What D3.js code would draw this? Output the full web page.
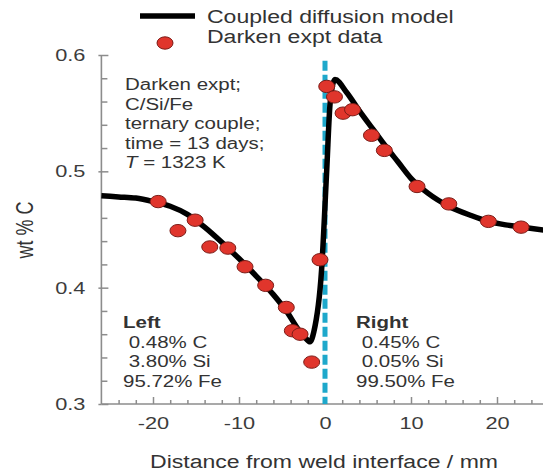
<!DOCTYPE html>
<html>
<head>
<meta charset="utf-8">
<script src="https://cdn.jsdelivr.net/npm/d3@7"></script>
<style>
    body { margin: 0; background: #fff; }
    svg { display: block; font-family: "Liberation Sans", Arial, sans-serif; }
    text { white-space: pre; }
</style>
</head>
<body>
<div id="svg-container"></div>
<script>
// Model curve (coupled diffusion model).
var modelX = [-26, -24, -22, -20, -18, -16, -14, -12, -10, -8, -6, -4.5, -3, -2.3, -1.74, -1.3,
	      -0.4, 0.2, 0.6, 1.16, 2.5, 4, 5.6, 7, 8.5, 10, 12, 14.4, 17, 19, 21, 23, 26];
var modelC = [0.479, 0.478, 0.477, 0.474, 0.470, 0.463, 0.452, 0.439, 0.425, 0.410, 0.394, 0.380, 0.363, 0.357, 0.3535, 0.362,
	      0.415, 0.501, 0.559, 0.579, 0.568, 0.552, 0.536, 0.522, 0.508, 0.494, 0.481, 0.470, 0.462, 0.457, 0.454, 0.452, 0.449];

// Darken experimental data points.
var exptX = [-19.4, -17.1, -15.1, -13.4, -11.3, -9.3, -6.9, -4.5, -3.8, -2.9, -1.55, -0.58,
	     0.2, 1.1, 2.1, 3.2, 5.4, 6.9, 10.7, 14.4, 19.0, 22.8];
var exptC = [0.474, 0.449, 0.458, 0.435, 0.434, 0.418, 0.402, 0.383, 0.363, 0.360, 0.336, 0.424,
	     0.573, 0.564, 0.550, 0.553, 0.531, 0.518, 0.487, 0.472, 0.457, 0.452];

// Ticks.
var xMajorTicks = [-20, -10, 0, 10, 20];
var xMinorTicks = [-24, -22, -18, -16, -14, -12, -8, -6, -4, -2, 2, 4, 6, 8, 12, 14, 16, 18, 22, 24];
var yMajorTicks = [0.3, 0.4, 0.5, 0.6];
var yMinorTicks = [0.32, 0.34, 0.36, 0.38, 0.42, 0.44, 0.46, 0.48, 0.52, 0.54, 0.56, 0.58];

// Legend and annotation texts.
var legendLabels = ["Coupled diffusion model", "Darken expt data"];
var infoLines = ["Darken expt;", "C/Si/Fe", "ternary couple;", "time = 13 days;"];
var leftLines = [" 0.48% C", " 3.80% Si", "95.72% Fe"];
var rightLines = [" 0.45% C", " 0.05% Si", "99.50% Fe"];

var width = 543, height = 470;
var sx = 1.28;           // the original is drawn a bit wide
var textColor = "#333", axisColor = "#8c8c8c";
var red = "#e0352c", redEdge = "#7c1c17", blue = "#1ea8cb";

var x = d3.scaleLinear().domain([-26, 26]).range([101.4, 548.6]);
var y = d3.scaleLinear().domain([0.3, 0.6]).range([404, 55]);

var svg = d3.select("#svg-container").append("svg")
    .attr("width", width)
    .attr("height", height);

// Put a (horizontally stretched) text at x0, y0.
function addText(x0, y0, str, size) {
    return svg.append("g")
	.attr("transform", "translate(" + x0 + "," + y0 + ")")
	.append("text")
	.attr("transform", "scale(" + sx + ",1)")
	.style("font-size", size + "px")
	.style("fill", textColor)
	.text(str);
}

// --------------------------------------------------
// Axes
// --------------------------------------------------

function styleAxis(g) {
    g.select(".domain").remove();
    g.selectAll(".tick line").attr("stroke", axisColor).attr("stroke-width", 1.5);
    g.selectAll("text").style("font-size", "17px").style("fill", "#3c3c3c");
}

// x axis: ticks point up into the plot.
svg.append("line")
    .attr("x1", x.range()[0]).attr("x2", x.range()[1])
    .attr("y1", y(0.3)).attr("y2", y(0.3))
    .attr("stroke", axisColor).attr("stroke-width", 1.6);

svg.append("g")
    .attr("transform", "translate(0," + y(0.3) + ")")
    .call(d3.axisBottom(x).tickValues(xMinorTicks).tickSize(-4).tickFormat(""))
    .call(styleAxis);

svg.append("g")
    .attr("transform", "translate(0," + y(0.3) + ")")
    .call(d3.axisBottom(x).tickValues(xMajorTicks).tickSize(-7).tickPadding(13).tickFormat(d3.format("d")))
    .call(styleAxis)
    .selectAll("text")
    .attr("transform", "scale(" + sx + ",1)")
    .text(function(d) { return d < 0 ? "-" + Math.abs(d) : d; });

// y axis: minor ticks inside, major ticks cross the line.
svg.append("line")
    .attr("x1", x(-26)).attr("x2", x(-26))
    .attr("y1", y(0.3)).attr("y2", y(0.6))
    .attr("stroke", axisColor).attr("stroke-width", 1.6);

svg.append("g")
    .attr("transform", "translate(" + x(-26) + ",0)")
    .call(d3.axisLeft(y).tickValues(yMinorTicks).tickSize(-6).tickFormat(""))
    .call(styleAxis);

svg.append("g")
    .attr("transform", "translate(" + x(-26) + ",0)")
    .call(d3.axisLeft(y).tickValues(yMajorTicks).tickSize(-7).tickFormat(""))
    .call(styleAxis);

svg.append("g")
    .attr("transform", "translate(" + x(-26) + ",0)")
    .call(d3.axisLeft(y).tickValues(yMajorTicks).tickSize(3).tickPadding(13).tickFormat(d3.format(".1f")))
    .call(styleAxis)
    .selectAll("text")
    .attr("x", -16 / sx)
    .attr("transform", "scale(" + sx + ",1)");

// Axis titles.
addText(324, 468, "Distance from weld interface / mm", 18)
    .attr("text-anchor", "middle");

svg.append("text")
    .attr("transform", "translate(33,230) rotate(-90) scale(1," + sx + ")")
    .attr("text-anchor", "middle")
    .style("font-size", "18px")
    .style("fill", textColor)
    .text("wt % C");

// --------------------------------------------------
// Weld interface, model curve and data
// --------------------------------------------------

svg.append("line")
    .attr("x1", x(0)).attr("x2", x(0))
    .attr("y1", y(0.595)).attr("y2", y(0.3))
    .attr("stroke", blue)
    .attr("stroke-width", 5)
    .attr("stroke-dasharray", "10,4");

var line = d3.line()
    .x(function(d, i) { return x(modelX[i]); })
    .y(function(d) { return y(d); })
    .curve(d3.curveMonotoneX);

svg.append("path")
    .datum(modelC)
    .attr("d", line)
    .attr("fill", "none")
    .attr("stroke", "#000")
    .attr("stroke-width", 5.5)
    .attr("stroke-linejoin", "round");

svg.selectAll(".dot")
    .data(exptC)
    .enter()
    .append("ellipse")
    .classed("dot", true)
    .attr("cx", function(d, i) { return x(exptX[i]); })
    .attr("cy", function(d) { return y(d); })
    .attr("rx", 8)
    .attr("ry", 6.2)
    .attr("fill", red)
    .attr("stroke", redEdge)
    .attr("stroke-width", 1);

// --------------------------------------------------
// Legend
// --------------------------------------------------

svg.append("line")
    .attr("x1", 140).attr("x2", 195)
    .attr("y1", 16).attr("y2", 16)
    .attr("stroke", "#000")
    .attr("stroke-width", 5.5);

svg.append("ellipse")
    .attr("cx", 165).attr("cy", 43)
    .attr("rx", 8).attr("ry", 6.2)
    .attr("fill", red)
    .attr("stroke", redEdge);

legendLabels.forEach(function(t, i) {
    addText(207, 23 + i * 19.5, t, 18);
});

// --------------------------------------------------
// Annotations
// --------------------------------------------------

infoLines.forEach(function(t, i) {
    addText(125, 90 + i * 19.5, t, 16);
});
var tLine = addText(125, 168, "", 16);
tLine.append("tspan").style("font-style", "italic").text("T");
tLine.append("tspan").text(" = 1323 K");

addText(123, 328, "Left", 16).style("font-weight", "bold");
leftLines.forEach(function(t, i) {
    addText(123, 347.5 + i * 19.5, t, 16);
});

addText(356, 328, "Right", 16).style("font-weight", "bold");
rightLines.forEach(function(t, i) {
    addText(356, 347.5 + i * 19.5, t, 16);
});
</script>
</body>
</html>
